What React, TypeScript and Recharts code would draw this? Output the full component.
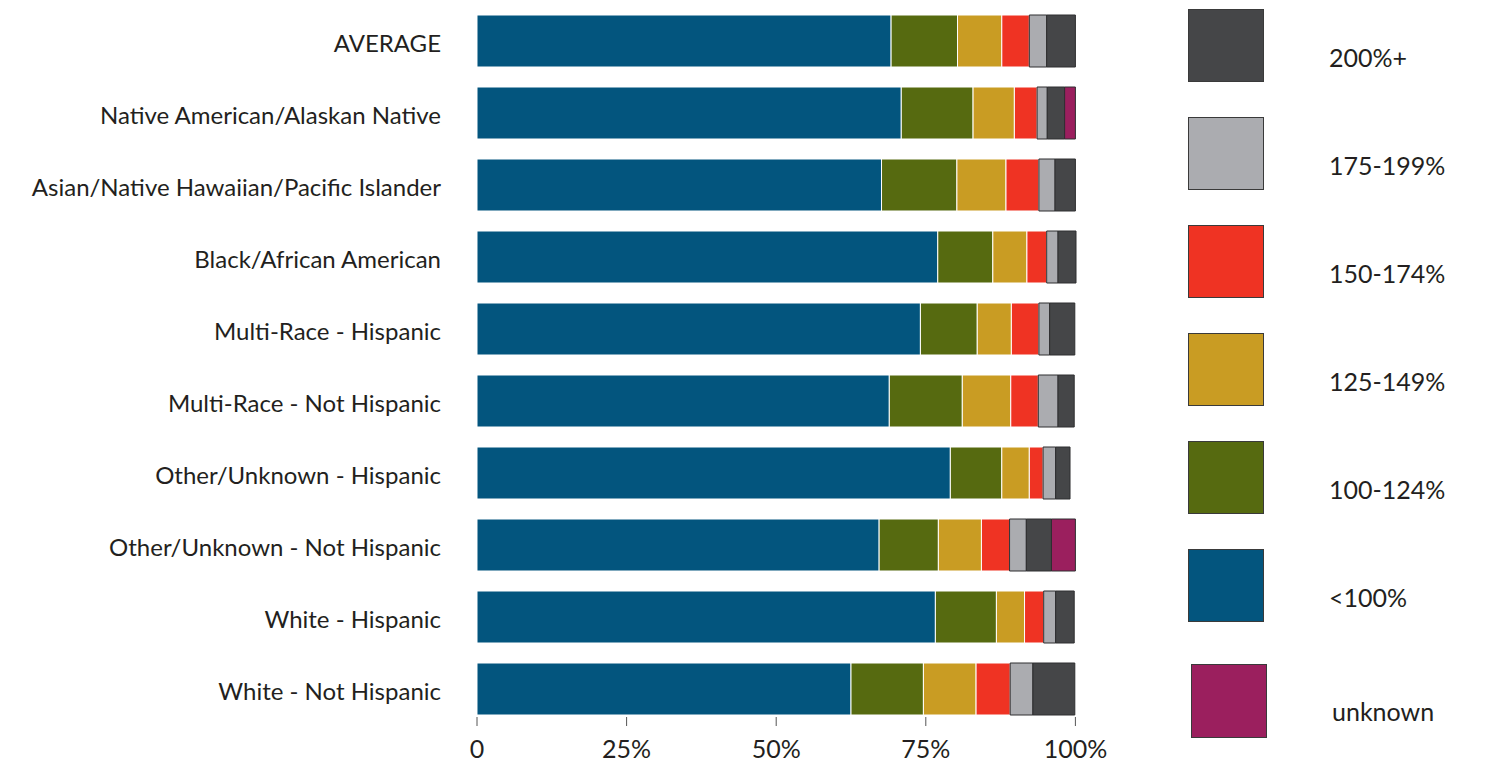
import React from "react";
import { BarChart, Bar, XAxis, YAxis, Legend } from "recharts";

// categories, top to bottom
const groups = [
  "AVERAGE",
  "Native American/Alaskan Native",
  "Asian/Native Hawaiian/Pacific Islander",
  "Black/African American",
  "Multi-Race - Hispanic",
  "Multi-Race - Not Hispanic",
  "Other/Unknown - Hispanic",
  "Other/Unknown - Not Hispanic",
  "White - Hispanic",
  "White - Not Hispanic",
];

// share of each group (%) per poverty band
const under100 = [69.2, 70.9, 67.6, 77.0, 74.1, 68.9, 79.1, 67.2, 76.6, 62.5];
const p100to124 = [11.1, 12.0, 12.6, 9.2, 9.5, 12.2, 8.6, 9.9, 10.2, 12.1];
const p125to149 = [7.4, 6.9, 8.2, 5.7, 5.7, 8.1, 4.6, 7.2, 4.7, 8.8];
const p150to174 = [4.6, 3.8, 5.5, 3.3, 4.6, 4.6, 2.3, 4.7, 3.2, 5.7];
const p175to199 = [2.9, 1.7, 2.7, 1.9, 1.8, 3.3, 2.1, 2.8, 2.0, 3.8];
const p200plus = [4.8, 2.9, 3.4, 3.0, 4.2, 2.7, 2.4, 4.2, 3.1, 7.0];
const unknown = [0, 1.8, 0, 0, 0, 0, 0, 4.0, 0, 0];

const xTicks = [0, 25, 50, 75, 100];

const series = [
  { key: "under100", name: "<100%", color: "#03557e", stroke: "#ffffff" },
  { key: "p100to124", name: "100-124%", color: "#566a10", stroke: "#ffffff" },
  { key: "p125to149", name: "125-149%", color: "#c99c23", stroke: "#ffffff" },
  { key: "p150to174", name: "150-174%", color: "#ef3323", stroke: "#ffffff" },
  { key: "p175to199", name: "175-199%", color: "#abacb0", stroke: "#2e2e30" },
  { key: "p200plus", name: "200%+", color: "#454648", stroke: "#2e2e30" },
  { key: "unknown", name: "unknown", color: "#9b1f5e", stroke: "#2e2e30" },
];

const data = groups.map((g, i) => ({
  group: g,
  under100: under100[i],
  p100to124: p100to124[i],
  p125to149: p125to149[i],
  p150to174: p150to174[i],
  p175to199: p175to199[i],
  p200plus: p200plus[i],
  unknown: unknown[i],
}));

const FONT = "Lato, 'Noto Sans', sans-serif";

// legend order top to bottom, drawn as big squares on the right
const legendOrder = ["p200plus", "p175to199", "p150to174", "p125to149", "p100to124", "under100"];

function renderLegend() {
  const items = legendOrder.map((k) => series.find((s) => s.key === k)!);
  const unk = series.find((s) => s.key === "unknown")!;
  return (
    <div style={{ position: "relative", width: 0, height: 0, fontFamily: FONT }}>
      {items.map((s, i) => (
        <React.Fragment key={s.key}>
          <div
            style={{
              position: "absolute",
              left: 0,
              top: 9 + i * 108,
              width: 74,
              height: 71,
              background: s.color,
              border: "1px solid #3a3a3a",
            }}
          />
          <div
            style={{
              position: "absolute",
              left: 141,
              top: 43 + i * 108,
              fontSize: 25,
              lineHeight: "28px",
              color: "#231f20",
              whiteSpace: "nowrap",
            }}
          >
            {s.name}
          </div>
        </React.Fragment>
      ))}
      <div
        style={{
          position: "absolute",
          left: 3,
          top: 664,
          width: 74,
          height: 72,
          background: unk.color,
          border: "1px solid #3a3a3a",
        }}
      />
      <div
        style={{
          position: "absolute",
          left: 144,
          top: 697,
          fontSize: 25,
          lineHeight: "28px",
          color: "#231f20",
          whiteSpace: "nowrap",
        }}
      >
        {unk.name}
      </div>
    </div>
  );
}

export default function App() {
  return (
    <div style={{ position: "absolute", left: 0, top: 0, background: "#fff" }}>
      <BarChart
        width={1486}
        height={763}
        data={data}
        layout="vertical"
        margin={{ top: 5, right: 410, bottom: 0, left: 0 }}
        barSize={52}
      >
        <XAxis
          type="number"
          domain={[0, 100]}
          ticks={xTicks}
          tickFormatter={(v: number) => (v === 0 ? "0" : `${v}%`)}
          axisLine={false}
          tickLine={{ stroke: "#555" }}
          tickSize={9}
          tickMargin={14}
          height={46}
          interval={0}
          tick={{ fill: "#231f20", fontSize: 25, fontFamily: FONT }}
        />
        <YAxis
          type="category"
          dataKey="group"
          width={477}
          axisLine={false}
          tickLine={false}
          tickSize={0}
          tickMargin={36}
          padding={{ top: 0, bottom: -8 }}
          interval={0}
          tick={{ fill: "#231f20", fontSize: 24, fontFamily: FONT, dy: 2 }}
        />
        <Legend
          content={renderLegend}
          wrapperStyle={{ position: "absolute", left: 1188, top: 0, width: 0, height: 0, overflow: "visible" }}
        />
        {series.map((s) => (
          <Bar
            key={s.key}
            dataKey={s.key}
            name={s.name}
            stackId="a"
            fill={s.color}
            stroke={s.stroke}
            strokeWidth={1}
            isAnimationActive={false}
          />
        ))}
      </BarChart>
    </div>
  );
}
